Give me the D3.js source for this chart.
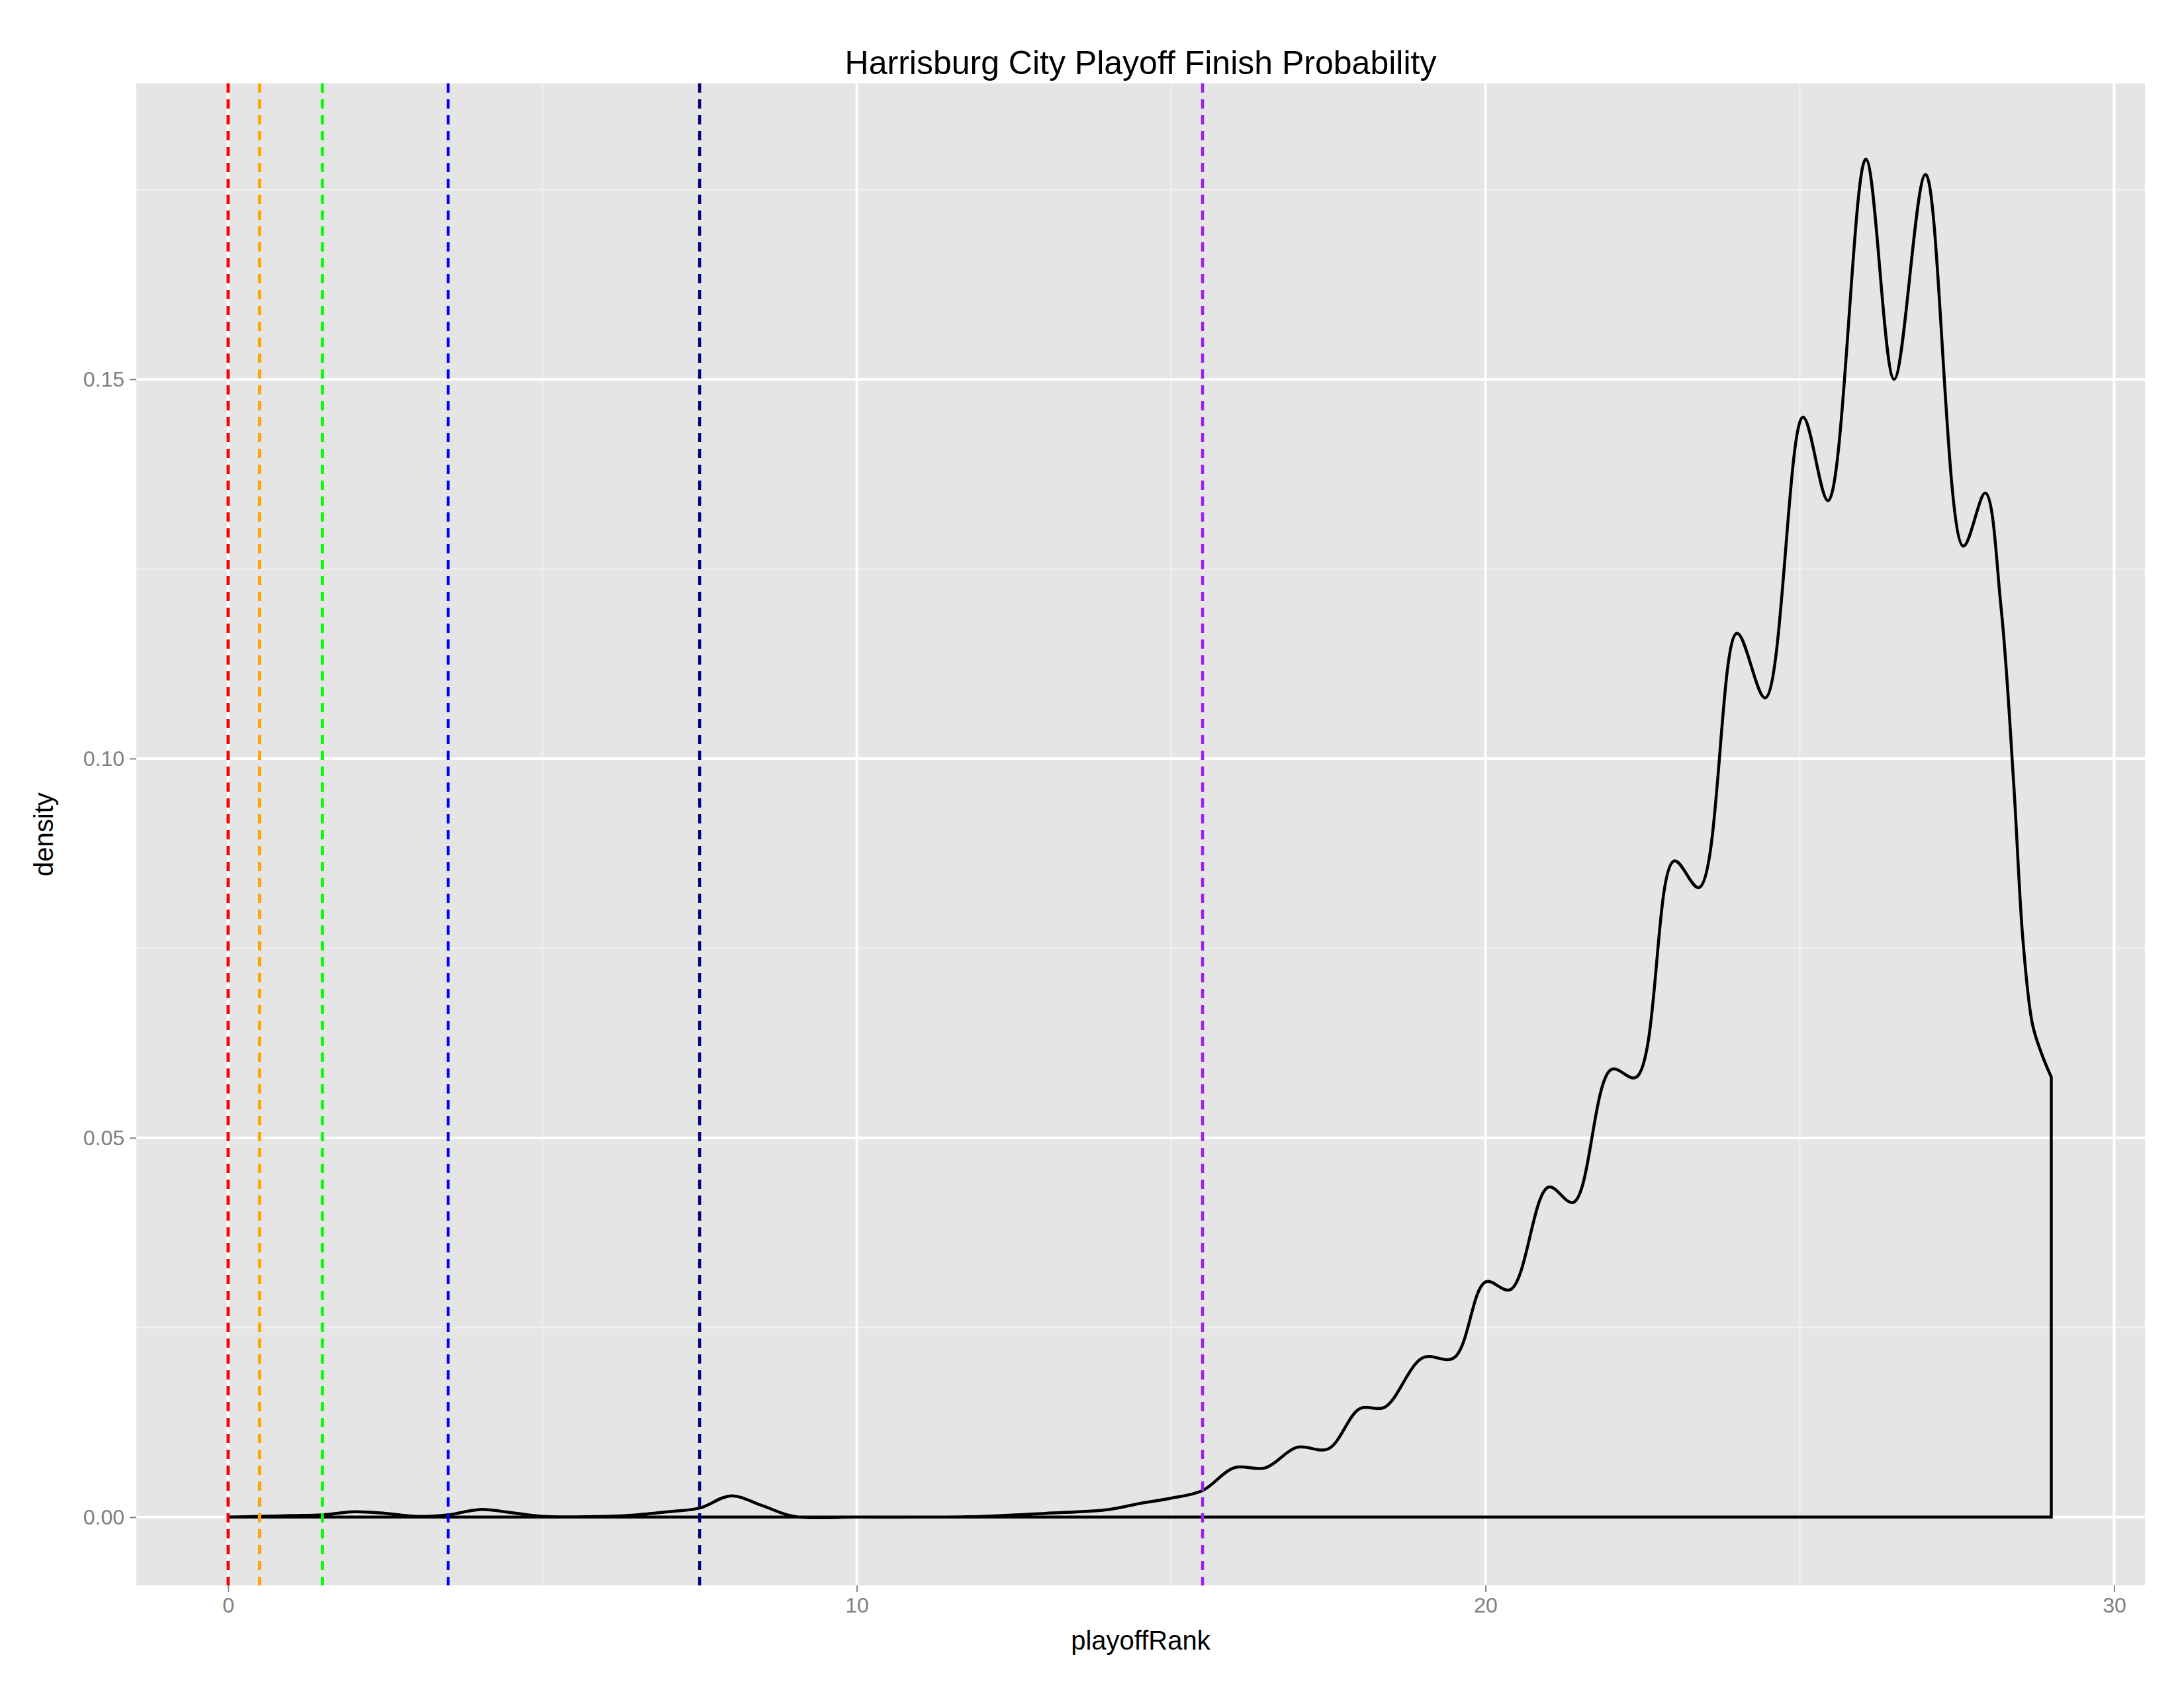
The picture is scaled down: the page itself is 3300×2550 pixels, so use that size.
<!DOCTYPE html>
<html><head><meta charset="utf-8">
<script src="https://cdn.jsdelivr.net/npm/d3@7"></script>
<style>body{margin:0;background:#fff}svg{display:block}</style>
</head><body>
<script>
const densX = [0,0.5,1,1.5,2,2.5,3,3.5,4,4.5,5,6,6.5,7,7.5,8,8.5,9,10,11,12,13,14,14.5,15,15.5,16,16.5,17,17.5,18,18.4,19,19.5,20,20.4,21,21.4,22,22.4,23,23.4,24,24.45,25.05,25.45,26.05,26.5,27,27.6,27.95,28.2,28.4,28.55,28.7,28.85,29];
const densY = [0,0.0001,0.0002,0.0003,0.0007,0.0005,0.0001,0.0003,0.001,0.0006,0.0001,0.0001,0.0003,0.0007,0.0012,0.0028,0.0015,0.0001,0,0,0.0001,0.0005,0.001,0.0018,0.0025,0.0035,0.0065,0.0065,0.0092,0.009,0.0143,0.0145,0.021,0.021,0.031,0.030,0.0435,0.0415,0.059,0.058,0.0865,0.083,0.1165,0.108,0.145,0.134,0.179,0.150,0.177,0.128,0.135,0.120,0.097,0.076,0.065,0.061,0.058];
const vlineX = [0,0.5,1.5,3.5,7.5,15.5];
const vlineColors = ["#ff0000","#ffa500","#00ff00","#0000ff","#000080","#a020f0"];
const xTicks = [0,10,20,30], xMinor=[5,15,25];
const yTicks = [0,0.05,0.10,0.15], yMinor=[0.025,0.075,0.125,0.175];

const W=3300,H=2550, L=206,R=3241,T=126,B=2395;
const svg=d3.select("body").append("svg").attr("width",W).attr("height",H).style("font-family","Liberation Sans, Arial, sans-serif");
const x=d3.scaleLinear().domain([-1.46,30.49]).range([L,R]);
const y=d3.scaleLinear().domain([-0.009,0.189]).range([B,T]);
svg.append("rect").attr("x",L).attr("y",T).attr("width",R-L).attr("height",B-T).attr("fill","#e5e5e5");
const g=svg.append("g");
xMinor.forEach(v=>g.append("line").attr("x1",x(v)).attr("x2",x(v)).attr("y1",T).attr("y2",B).attr("stroke","#f2f2f2").attr("stroke-width",2));
yMinor.forEach(v=>g.append("line").attr("y1",y(v)).attr("y2",y(v)).attr("x1",L).attr("x2",R).attr("stroke","#f2f2f2").attr("stroke-width",2));
xTicks.forEach(v=>g.append("line").attr("x1",x(v)).attr("x2",x(v)).attr("y1",T).attr("y2",B).attr("stroke","#fff").attr("stroke-width",4));
yTicks.forEach(v=>g.append("line").attr("y1",y(v)).attr("y2",y(v)).attr("x1",L).attr("x2",R).attr("stroke","#fff").attr("stroke-width",4));
const xa=svg.append("g").attr("transform",`translate(0,${B})`).call(d3.axisBottom(x).tickValues(xTicks).tickSize(10).tickPadding(8).tickFormat(d3.format("d")));
const ya=svg.append("g").attr("transform",`translate(${L},0)`).call(d3.axisLeft(y).tickValues(yTicks).tickSize(10).tickPadding(8).tickFormat(d3.format(".2f")));
[xa,ya].forEach(a=>{a.select(".domain").remove();a.selectAll("line").attr("stroke","#7f7f7f").attr("stroke-width",2);a.selectAll("text").attr("fill","#7f7f7f").style("font-size","32px");});
const pts=densX.map((d,i)=>[d,densY[i]]);
const line=d3.line().x(d=>x(d[0])).y(d=>y(Math.max(0,d[1]))).curve(d3.curveCatmullRom.alpha(0.5));
let path=line(pts)+`L${x(29)},${y(0)}L${x(0)},${y(0)}`;
svg.append("path").attr("d",path).attr("fill","none").attr("stroke","#000").attr("stroke-width",4.5);
vlineX.forEach((v,i)=>svg.append("line").attr("x1",x(v)).attr("x2",x(v)).attr("y1",T).attr("y2",B).attr("stroke",vlineColors[i]).attr("stroke-width",4.5).attr("stroke-dasharray","14,10"));
svg.append("text").attr("x",(L+R)/2).attr("y",112).attr("text-anchor","middle").style("font-size","50px").text("Harrisburg City Playoff Finish Probability");
svg.append("text").attr("x",(L+R)/2).attr("y",2492).attr("text-anchor","middle").style("font-size","40px").text("playoffRank");
svg.append("text").attr("transform",`translate(80,${(T+B)/2}) rotate(-90)`).attr("text-anchor","middle").style("font-size","40px").text("density");
</script>
</body></html>
